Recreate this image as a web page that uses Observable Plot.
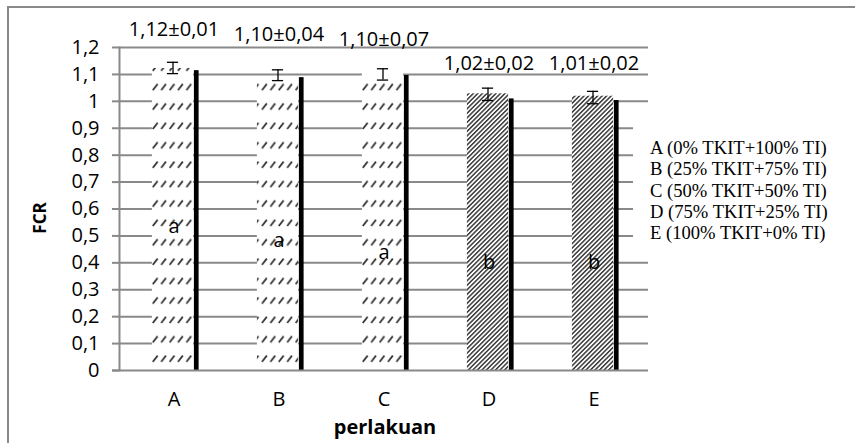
<!DOCTYPE html>
<html><head><meta charset="utf-8">
<script src="https://cdn.jsdelivr.net/npm/d3@7"></script>
<script src="https://cdn.jsdelivr.net/npm/@observablehq/plot@0.6"></script>
<style>html,body{margin:0;padding:0;background:#fff}</style>
</head><body><div id="chart"></div>
<script>
// ---- data ----
const categories = ["A", "B", "C", "D", "E"];
const hatchedValues = [1.122, 1.078, 1.107, 1.028, 1.019];
const blackValues = [1.114, 1.088, 1.096, 1.009, 1.003];
const errCenter = [1.124, 1.097, 1.100, 1.026, 1.014];
const errHalf = [0.021, 0.020, 0.021, 0.023, 0.023];
const valueLabels = ["1,12±0,01", "1,10±0,04", "1,10±0,07", "1,02±0,02", "1,01±0,02"];
const valueLabelAt = [1.241, 1.226, 1.207, 1.118, 1.118];
const letters = ["a", "a", "a", "b", "b"];
const letterAt = [0.535, 0.483, 0.438, 0.401, 0.401];
const denseFill = [false, false, false, true, true];
const yTicks = [0, 0.1, 0.2, 0.3, 0.4, 0.5, 0.6, 0.7, 0.8, 0.9, 1, 1.1, 1.2];
const yTickLabels = ["0", "0,1", "0,2", "0,3", "0,4", "0,5", "0,6", "0,7", "0,8", "0,9", "1", "1,1", "1,2"];
const legendLabels = [
  "A (0% TKIT+100% TI)",
  "B (25% TKIT+75% TI)",
  "C (50% TKIT+50% TI)",
  "D (75% TKIT+25% TI)",
  "E (100% TKIT+0% TI)"
];
const yTitle = "FCR";
const xTitle = "perlakuan";

const data = categories.map((c, i) => ({
  cat: c, hatched: hatchedValues[i], black: blackValues[i],
  lo: errCenter[i] - errHalf[i], hi: errCenter[i] + errHalf[i],
  label: valueLabels[i], labelAt: valueLabelAt[i],
  letter: letters[i], letterAt: letterAt[i], dense: denseFill[i]
}));

const W = 855, H = 443;
const mL = 119, mR = 207, mT = 47, mB = 73;
const bw = (W - mL - mR) / categories.length; // band width
const half = bw / 2;
const gray = "#898989";

const plot = Plot.plot({
  width: W, height: H,
  marginLeft: mL, marginRight: mR, marginTop: mT, marginBottom: mB,
  style: {fontFamily: "'Open Sans', sans-serif", fontSize: "20px", color: "#000", background: "#fff"},
  x: {type: "band", domain: categories, padding: 0, label: null},
  y: {domain: [0, 1.2], label: null},
  marks: [
    Plot.ruleY(yTicks.filter(t => t > 0), {stroke: gray, strokeWidth: 2}),
    Plot.barY(data, {filter: d => !d.dense, x: "cat", y: "hatched", fill: "url(#hatchSparse)",
      insetLeft: half - 22, insetRight: half - 20}),
    Plot.barY(data, {filter: d => d.dense, x: "cat", y: "hatched", fill: "url(#hatchDense)",
      insetLeft: half - 22, insetRight: half - 20}),
    Plot.barY(data, {x: "cat", y: "black", fill: "#000",
      insetLeft: half + 20, insetRight: half - 25.5}),
    Plot.ruleX(data, {x: "cat", y1: "lo", y2: "hi", stroke: "#000", strokeWidth: 1.3, dx: -1}),
    Plot.tickY(data, {x: "cat", y: "lo", stroke: "#000", strokeWidth: 1.3, insetLeft: half - 7, insetRight: half - 5}),
    Plot.tickY(data, {x: "cat", y: "hi", stroke: "#000", strokeWidth: 1.3, insetLeft: half - 7, insetRight: half - 5}),
    Plot.text(data, {x: "cat", y: "labelAt", text: "label", lineAnchor: "bottom", fontSize: 20, fill: "#000"}),
    Plot.text(data, {x: "cat", y: "letterAt", text: "letter", lineAnchor: "middle", fontSize: 20, fill: "#000"}),
    Plot.ruleY([0], {stroke: gray, strokeWidth: 2, insetLeft: -7}),
    Plot.frame({anchor: "left", stroke: gray, strokeWidth: 2}),
    Plot.axisY({ticks: yTicks, tickFormat: (d) => yTickLabels[yTicks.indexOf(d)], tickSize: 7, tickPadding: 13,
      stroke: gray, strokeWidth: 2, fontSize: 20, label: null}),
    Plot.axisX({tickSize: 0, tickPadding: 21, fontSize: 20, label: null})
  ]
});

// patterns
const svg = d3.select(plot);
const defs = svg.insert("defs", ":first-child");
const ps = defs.append("pattern").attr("id", "hatchSparse").attr("patternUnits", "userSpaceOnUse")
  .attr("width", 8.4).attr("height", 19.4);
ps.append("rect").attr("width", 8.4).attr("height", 19.4).attr("fill", "#fff");
ps.append("line").attr("x1", 1.6).attr("y1", 12.6).attr("x2", 6.4).attr("y2", 6.4)
  .attr("stroke", "#2e2e2e").attr("stroke-width", 1.7);
const pd = defs.append("pattern").attr("id", "hatchDense").attr("patternUnits", "userSpaceOnUse")
  .attr("width", 3.2).attr("height", 3.2).attr("patternTransform", "rotate(45)");
pd.append("rect").attr("width", 3.2).attr("height", 3.2).attr("fill", "#fff");
pd.append("rect").attr("width", 1.5).attr("height", 3.2).attr("fill", "#3a3a3a");

// outer chart border (top and left visible)
svg.append("path").attr("d", `M8,${H} L8,7 L${W},7`).attr("fill", "none").attr("stroke", gray).attr("stroke-width", 2);

// legend box (covers gridlines)
const lg = svg.append("g").attr("text-anchor", "start");
lg.append("rect").attr("x", 633).attr("y", 113).attr("width", 215).attr("height", 139).attr("fill", "#fff");
lg.selectAll("text").data(legendLabels).join("text")
  .attr("x", 650).attr("y", (d, i) => 154 + i * 21.3).attr("text-anchor", "start")
  .attr("font-family", "'Liberation Serif', 'Times New Roman', serif").attr("font-size", 18.6)
  .attr("fill", "#000").text(d => d);

// axis titles
svg.append("text").attr("transform", "translate(46,218) rotate(-90)").attr("text-anchor", "middle")
  .attr("font-family", "'Open Sans', sans-serif").attr("font-weight", "bold").attr("font-size", 17).text(yTitle);
svg.append("text").attr("x", 385).attr("y", 434).attr("text-anchor", "middle")
  .attr("font-family", "'Open Sans', sans-serif").attr("font-weight", "bold").attr("font-size", 20).text(xTitle);

document.getElementById("chart").appendChild(plot);
</script>
</body></html>
